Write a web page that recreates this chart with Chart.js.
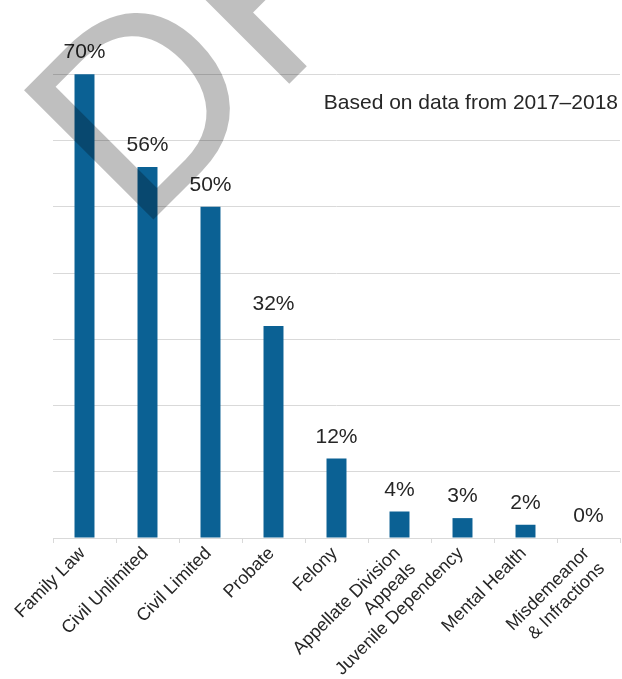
<!DOCTYPE html>
<html>
<head>
<meta charset="utf-8">
<script src="https://cdn.jsdelivr.net/npm/chart.js@4/dist/chart.umd.min.js"></script>
<style>
  html, body { margin: 0; padding: 0; background: #ffffff; }
  #wrap { width: 622px; height: 679px; }
</style>
</head>
<body>
<div id="wrap"><canvas id="c" width="622" height="679"></canvas></div>
<script>
const categories = [
  "Family Law",
  "Civil Unlimited",
  "Civil Limited",
  "Probate",
  "Felony",
  ["Appellate Division", "Appeals"],
  "Juvenile Dependency",
  "Mental Health",
  ["Misdemeanor", "& Infractions"]
];
const percentValues = [70, 56, 50, 32, 12, 4, 3, 2, 0];
const yTicks = [0, 10, 20, 30, 40, 50, 60, 70, 80];
const noteText = "Based on data from 2017–2018";
const watermarkText = "DRAFT";

const FONT = "'Liberation Sans', Arial, Helvetica, sans-serif";
const TEXT_COLOR = "#262626";
const GRID_COLOR = "#d9d9d9";
const BAR_COLOR = "#0b6194";

const labelPlugin = {
  id: "valueLabels",
  afterDatasetsDraw(chart) {
    const ctx = chart.ctx;
    const meta = chart.getDatasetMeta(0);
    ctx.save();
    ctx.font = "21px " + FONT;
    ctx.fillStyle = TEXT_COLOR;
    ctx.textAlign = "center";
    ctx.textBaseline = "alphabetic";
    meta.data.forEach((bar, i) => {
      ctx.fillText(percentValues[i] + "%", bar.x, bar.y - 16);
    });
    ctx.textAlign = "right";
    ctx.fillText(noteText, chart.chartArea.right - 2, 109);
    ctx.restore();
  }
};

const watermarkPlugin = {
  id: "watermark",
  afterDraw(chart) {
    const ctx = chart.ctx;
    ctx.save();
    ctx.translate(138, 235);
    ctx.rotate(-Math.PI / 4);
    ctx.font = "266px " + FONT;
    ctx.fillStyle = "rgba(0,0,0,0.25)";
    ctx.textAlign = "left";
    ctx.textBaseline = "alphabetic";
    ctx.fillText(watermarkText, 0, 0);
    ctx.restore();
  }
};

new Chart(document.getElementById("c"), {
  type: "bar",
  data: {
    labels: categories,
    datasets: [{
      data: percentValues,
      backgroundColor: BAR_COLOR,
      borderWidth: 0,
      categoryPercentage: 1.0,
      barPercentage: 0.317
    }]
  },
  options: {
    responsive: false,
    devicePixelRatio: 1,
    animation: false,
    layout: { padding: { top: 8, right: 2, left: 0, bottom: 0 } },
    plugins: {
      legend: { display: false },
      tooltip: { enabled: false },
      title: { display: false }
    },
    scales: {
      x: {
        grid: {
          display: true,
          drawOnChartArea: false,
          drawTicks: true,
          tickLength: 5,
          color: GRID_COLOR,
          lineWidth: 1
        },
        border: { display: true, color: GRID_COLOR, width: 1 },
        ticks: {
          autoSkip: false,
          minRotation: 45,
          maxRotation: 45,
          padding: 0,
          labelOffset: -2,
          color: TEXT_COLOR,
          font: { family: FONT, size: 18 }
        },
        afterFit(scale) { scale.height = 141; }
      },
      y: {
        min: yTicks[0],
        max: yTicks[yTicks.length - 1],
        afterBuildTicks(scale) { scale.ticks = yTicks.map(v => ({ value: v })); },
        grid: {
          drawTicks: false,
          color: (c) => (c.tick && c.tick.value === yTicks[yTicks.length - 1]) ? "rgba(0,0,0,0)" : GRID_COLOR,
          lineWidth: 1
        },
        border: { display: false },
        ticks: { display: false },
        afterFit(scale) { scale.width = 53; }
      }
    }
  },
  plugins: [labelPlugin, watermarkPlugin]
});
</script>
</body>
</html>
